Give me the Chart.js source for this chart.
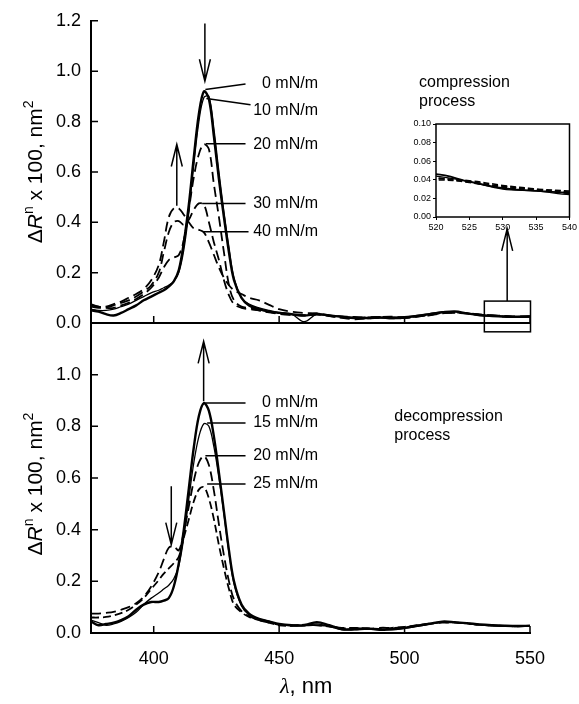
<!DOCTYPE html>
<html>
<head>
<meta charset="utf-8">
<script src="https://cdn.jsdelivr.net/npm/chart.js@4.4.0/dist/chart.umd.min.js"></script>
<style>
  body { margin: 0; background: #fff; }
  #wrap { position: relative; width: 579px; height: 704px; }
  canvas { position: absolute; }
</style>
</head>
<body>
<div id="wrap">
  <canvas id="bottomChart" width="579" height="704" style="left:0;top:0"></canvas>
  <canvas id="topChart" width="579" height="704" style="left:0;top:0"></canvas>
  <canvas id="insetChart" width="179" height="130" style="left:400px;top:110px"></canvas>
</div>
<script>
// wavelength grid, nm
const wavelength = [375, 378, 381, 384, 387, 390, 393, 396, 399, 402,
  404, 406, 408, 410, 412, 414, 416, 418, 420, 422, 424, 426, 428, 430, 432,
  435, 438, 442, 446, 450,
  455, 460, 465, 470, 475, 480, 485, 490, 495, 500, 505, 510, 515, 520, 525, 530, 535, 540, 545, 550];

// compression process
const comp0 = [0.05, 0.045, 0.035, 0.03, 0.04, 0.055, 0.07, 0.09, 0.105, 0.12,
  0.13, 0.145, 0.165, 0.21, 0.32, 0.47, 0.66, 0.83, 0.92, 0.89, 0.74, 0.57, 0.42, 0.28, 0.17,
  0.10, 0.07, 0.055, 0.045, 0.04,
  0.035, 0.03, 0.035, 0.03, 0.025, 0.02, 0.02, 0.022, 0.02, 0.022, 0.028, 0.035, 0.042, 0.046, 0.038, 0.031, 0.028, 0.026, 0.025, 0.026];
const comp10 = [0.055, 0.05, 0.05, 0.055, 0.065, 0.075, 0.09, 0.105, 0.12, 0.13,
  0.14, 0.15, 0.165, 0.20, 0.29, 0.44, 0.63, 0.80, 0.895, 0.90, 0.77, 0.60, 0.44, 0.30, 0.18,
  0.10, 0.075, 0.06, 0.05, 0.042,
  0.035, 0.005, 0.035, 0.03, 0.025, 0.022, 0.018, 0.02, 0.022, 0.025, 0.03, 0.037, 0.045, 0.044, 0.038, 0.030, 0.028, 0.024, 0.022, 0.024];
const comp20 = [0.07, 0.065, 0.06, 0.06, 0.07, 0.08, 0.095, 0.115, 0.14, 0.18,
  0.22, 0.25, 0.26, 0.27, 0.33, 0.45, 0.58, 0.67, 0.71, 0.69, 0.55, 0.42, 0.28, 0.15, 0.09,
  0.065, 0.06, 0.05, 0.042, 0.036,
  0.032, 0.03, 0.038, 0.028, 0.02, 0.015, 0.018, 0.02, 0.018, 0.02, 0.026, 0.033, 0.04, 0.042, 0.037, 0.032, 0.029, 0.027, 0.024, 0.025];
const comp30 = [0.065, 0.06, 0.062, 0.07, 0.08, 0.09, 0.105, 0.125, 0.15, 0.20,
  0.28, 0.36, 0.40, 0.405, 0.39, 0.41, 0.45, 0.475, 0.47, 0.40, 0.32, 0.25, 0.17, 0.11, 0.075,
  0.06, 0.055, 0.05, 0.044, 0.038,
  0.033, 0.03, 0.034, 0.027, 0.022, 0.02, 0.022, 0.024, 0.022, 0.02, 0.025, 0.032, 0.04, 0.040, 0.038, 0.033, 0.030, 0.028, 0.026, 0.027];
const comp40 = [0.075, 0.065, 0.065, 0.075, 0.085, 0.10, 0.115, 0.135, 0.17, 0.23,
  0.32, 0.42, 0.455, 0.455, 0.43, 0.40, 0.375, 0.37, 0.36, 0.32, 0.27, 0.22, 0.18, 0.15, 0.13,
  0.115, 0.10, 0.09, 0.072, 0.055,
  0.045, 0.04, 0.038, 0.03, 0.026, 0.024, 0.022, 0.024, 0.025, 0.022, 0.026, 0.03, 0.038, 0.041, 0.039, 0.034, 0.030, 0.025, 0.024, 0.025];

// decompression process
const decomp0 = [0.045, 0.03, 0.035, 0.04, 0.05, 0.065, 0.09, 0.11, 0.12, 0.12,
  0.125, 0.135, 0.18, 0.27, 0.40, 0.56, 0.72, 0.84, 0.89, 0.86, 0.76, 0.62, 0.47, 0.32, 0.20,
  0.11, 0.075, 0.055, 0.045, 0.035,
  0.03, 0.03, 0.042, 0.03, 0.015, 0.015, 0.018, 0.012, 0.015, 0.02, 0.028, 0.036, 0.044, 0.042, 0.038, 0.033, 0.03, 0.028, 0.027, 0.028];
const decomp15 = [0.05, 0.04, 0.03, 0.035, 0.045, 0.06, 0.08, 0.11, 0.135, 0.155,
  0.17, 0.185, 0.21, 0.26, 0.37, 0.52, 0.66, 0.76, 0.81, 0.80, 0.72, 0.60, 0.46, 0.31, 0.19,
  0.105, 0.07, 0.055, 0.045, 0.032,
  0.028, 0.028, 0.035, 0.025, 0.012, 0.012, 0.015, 0.015, 0.012, 0.018, 0.026, 0.034, 0.042, 0.040, 0.036, 0.031, 0.028, 0.026, 0.027, 0.027];
const decomp20 = [0.075, 0.075, 0.078, 0.082, 0.09, 0.10, 0.115, 0.14, 0.18, 0.235,
  0.285, 0.33, 0.335, 0.32, 0.39, 0.49, 0.59, 0.66, 0.685, 0.65, 0.55, 0.42, 0.30, 0.20, 0.13,
  0.085, 0.065, 0.05, 0.04, 0.032,
  0.03, 0.03, 0.03, 0.028, 0.02, 0.02, 0.015, 0.02, 0.02, 0.022, 0.028, 0.035, 0.04, 0.04, 0.037, 0.032, 0.03, 0.027, 0.026, 0.027];
const decomp25 = [0.06, 0.06, 0.062, 0.068, 0.077, 0.09, 0.11, 0.135, 0.17, 0.205,
  0.23, 0.25, 0.27, 0.295, 0.37, 0.44, 0.51, 0.555, 0.565, 0.52, 0.44, 0.34, 0.25, 0.17, 0.11,
  0.08, 0.062, 0.05, 0.04, 0.03,
  0.028, 0.032, 0.03, 0.025, 0.018, 0.02, 0.018, 0.016, 0.02, 0.024, 0.03, 0.036, 0.041, 0.041, 0.037, 0.032, 0.029, 0.027, 0.026, 0.027];

const compLabels = ['0 mN/m', '10 mN/m', '20 mN/m', '30 mN/m', '40 mN/m'];
const decompLabels = ['0 mN/m', '15 mN/m', '20 mN/m', '25 mN/m'];
const xTicks = [400, 450, 500, 550];
const yTicksTop = [0, 0.2, 0.4, 0.6, 0.8, 1.0, 1.2];
const yTicksBottom = [0, 0.2, 0.4, 0.6, 0.8, 1.0];
const insetXTicks = [520, 525, 530, 535, 540];
const insetYTicks = [0, 0.02, 0.04, 0.06, 0.08, 0.10];

const FONT = "'Liberation Sans', Arial, sans-serif";
Chart.defaults.font.family = FONT;
Chart.defaults.color = '#000';

const pts = ys => wavelength.map((x, i) => ({ x: x, y: ys[i] }));

const line = (label, ys, width, dash) => ({
  label: label,
  data: pts(ys),
  borderColor: '#000',
  borderWidth: width,
  borderDash: dash,
  pointRadius: 0,
  tension: 0.35,
  fill: false
});

// y title with italic R and superscripts, rotated
const drawYTitle = (ctx, cx, cy) => {
  const parts = [
    ['\u0394', '21px ' + FONT, 0],
    ['R', 'italic 21px ' + FONT, 0],
    ['n', '14px ' + FONT, -9],
    [' x 100, nm', '21px ' + FONT, 0],
    ['2', '14px ' + FONT, -9]
  ];
  ctx.save();
  ctx.translate(cx, cy);
  ctx.rotate(-Math.PI / 2);
  let w = 0;
  parts.forEach(p => { ctx.font = p[1]; w += ctx.measureText(p[0]).width; });
  let px = -w / 2;
  ctx.textAlign = 'left';
  ctx.textBaseline = 'alphabetic';
  parts.forEach(p => {
    ctx.font = p[1];
    ctx.fillText(p[0], px, p[2]);
    px += ctx.measureText(p[0]).width;
  });
  ctx.restore();
};

// annotations drawn through the chart's own scales
const makeMarks = cfg => ({
  id: 'marks',
  afterDraw(chart) {
    const { ctx, chartArea: a, scales: { x, y } } = chart;
    const X = v => x.getPixelForValue(v);
    const Y = v => y.getPixelForValue(v);
    ctx.save();
    ctx.strokeStyle = '#000';
    ctx.fillStyle = '#000';
    ctx.lineWidth = 1.5;
    ctx.setLineDash([]);

    // inward tick marks
    ctx.beginPath();
    x.ticks.forEach(t => { ctx.moveTo(X(t.value), a.bottom); ctx.lineTo(X(t.value), a.bottom - 7); });
    y.ticks.forEach(t => { ctx.moveTo(a.left, Y(t.value)); ctx.lineTo(a.left + 7, Y(t.value)); });
    ctx.stroke();

    // leader lines and pressure labels
    ctx.font = '16px ' + FONT;
    ctx.textAlign = 'right';
    ctx.textBaseline = 'middle';
    cfg.leaders.forEach(l => {
      ctx.beginPath();
      ctx.moveTo(X(l.a[0]), Y(l.a[1]));
      ctx.lineTo(X(l.b[0]), Y(l.b[1]));
      ctx.stroke();
      ctx.fillText(l.text, X(465.5), Y(l.ty));
    });

    // arrows
    cfg.arrows.forEach(ar => {
      const px = X(ar.x), y0 = Y(ar.from), y1 = Y(ar.to);
      const d = y1 > y0 ? 1 : -1;
      ctx.beginPath();
      ctx.moveTo(px, y0);
      ctx.lineTo(px, y1);
      ctx.moveTo(px - 5.5, y1 - d * 22);
      ctx.lineTo(px, y1);
      ctx.lineTo(px + 5.5, y1 - d * 22);
      ctx.stroke();
    });

    if (cfg.box) {
      const b = cfg.box;
      ctx.strokeRect(X(b.x0), Y(b.y1), X(b.x1) - X(b.x0), Y(b.y0) - Y(b.y1));
    }

    ctx.font = '16px ' + FONT;
    ctx.textAlign = 'left';
    ctx.textBaseline = 'alphabetic';
    cfg.notes.forEach(n => ctx.fillText(n.text, X(n.x), Y(n.y)));

    drawYTitle(ctx, 42, (a.top + a.bottom) / 2 + cfg.titleShift);

    if (cfg.xTitle) {
      ctx.textAlign = 'left';
      ctx.font = 'italic 22px "Liberation Serif", serif';
      ctx.fillText('\u03bb', 280, 693);
      const w = ctx.measureText('\u03bb').width;
      ctx.font = '22px ' + FONT;
      ctx.fillText(', nm', 280 + w, 693);
    }
    ctx.restore();
  }
});

const baseScales = (yTicks, showX, xHeight) => ({
  x: {
    type: 'linear',
    min: 375,
    max: 550,
    afterBuildTicks: s => { s.ticks = xTicks.map(v => ({ value: v })); },
    afterFit: s => { s.height = xHeight; },
    grid: { display: false, drawTicks: false },
    border: { display: true, width: 2, color: '#000' },
    ticks: { display: showX, padding: 15, font: { size: 18 }, color: '#000' }
  },
  y: {
    min: 0,
    max: 1.2,
    afterBuildTicks: s => { s.ticks = yTicks.map(v => ({ value: v })); },
    afterFit: s => { s.width = 91; },
    grid: { display: false, drawTicks: false },
    border: { display: true, width: 2, color: '#000' },
    ticks: { padding: 10, font: { size: 18 }, color: '#000', callback: v => Number(v).toFixed(1) }
  }
});

const common = {
  responsive: false,
  animation: false,
  plugins: { legend: { display: false }, tooltip: { enabled: false } }
};

new Chart(document.getElementById('topChart'), {
  type: 'line',
  data: {
    datasets: [
      line(compLabels[0], comp0, 2.4, []),
      line(compLabels[1], comp10, 1.3, []),
      line(compLabels[2], comp20, 1.8, [10, 5]),
      line(compLabels[3], comp30, 1.8, [10, 5]),
      line(compLabels[4], comp40, 1.8, [10, 5])
    ]
  },
  options: Object.assign({}, common, {
    layout: { padding: { left: 0, top: 19, right: 49, bottom: 381 } },
    scales: baseScales(yTicksTop, false, 0)
  }),
  plugins: [makeMarks({
    leaders: [
      { a: [420.6, 0.927], b: [436.6, 0.949], text: compLabels[0], ty: 0.949 },
      { a: [421, 0.891], b: [438.6, 0.867], text: compLabels[1], ty: 0.844 },
      { a: [420.8, 0.712], b: [436.6, 0.712], text: compLabels[2], ty: 0.709 },
      { a: [419.3, 0.475], b: [436.6, 0.475], text: compLabels[3], ty: 0.473 },
      { a: [419.8, 0.362], b: [437.8, 0.362], text: compLabels[4], ty: 0.364 }
    ],
    arrows: [
      { x: 420.4, from: 1.189, to: 0.96 },
      { x: 409.2, from: 0.466, to: 0.709 },
      { x: 540.9, from: 0.087, to: 0.374 }
    ],
    box: { x0: 531.8, x1: 550.2, y0: -0.035, y1: 0.087 },
    notes: [
      { text: 'compression', x: 505.8, y: 0.936 },
      { text: 'process', x: 505.8, y: 0.861 }
    ],
    titleShift: 0,
    xTitle: false
  })]
});

new Chart(document.getElementById('bottomChart'), {
  type: 'line',
  data: {
    datasets: [
      line(decompLabels[0], decomp0, 2.4, []),
      line(decompLabels[1], decomp15, 1.3, []),
      line(decompLabels[2], decomp20, 1.8, [10, 5]),
      line(decompLabels[3], decomp25, 1.8, [8, 4])
    ]
  },
  options: Object.assign({}, common, {
    layout: { padding: { left: 0, top: 323, right: 49, bottom: 0 } },
    scales: baseScales(yTicksBottom, true, 71)
  }),
  plugins: [makeMarks({
    leaders: [
      { a: [420.6, 0.890], b: [436.6, 0.890], text: decompLabels[0], ty: 0.890 },
      { a: [421.3, 0.813], b: [436.6, 0.813], text: decompLabels[1], ty: 0.813 },
      { a: [420.6, 0.686], b: [436.6, 0.686], text: decompLabels[2], ty: 0.686 },
      { a: [421.3, 0.577], b: [436.6, 0.577], text: decompLabels[3], ty: 0.577 }
    ],
    arrows: [
      { x: 419.9, from: 0.897, to: 1.129 },
      { x: 407, from: 0.568, to: 0.342 }
    ],
    box: null,
    notes: [
      { text: 'decompression', x: 495.9, y: 0.822 },
      { text: 'process', x: 495.9, y: 0.748 }
    ],
    titleShift: 6,
    xTitle: true
  })]
});

// inset: zoom on 520-540 nm of the compression spectra
const frame = {
  id: 'frame',
  afterDraw(chart) {
    const { ctx, chartArea: a } = chart;
    ctx.save();
    ctx.strokeStyle = '#000';
    ctx.lineWidth = 1.5;
    ctx.strokeRect(a.left, a.top, a.right - a.left, a.bottom - a.top);
    ctx.restore();
  }
};

new Chart(document.getElementById('insetChart'), {
  type: 'line',
  data: {
    datasets: [
      line(compLabels[0], comp0, 1.8, []),
      line(compLabels[1], comp10, 1.2, []),
      line(compLabels[2], comp20, 1.5, [6, 3]),
      line(compLabels[3], comp30, 1.5, [6, 3]),
      line(compLabels[4], comp40, 1.5, [6, 3])
    ]
  },
  options: Object.assign({}, common, {
    layout: { padding: { left: 0, top: 14, right: 8, bottom: 0 } },
    scales: {
      x: {
        type: 'linear',
        min: 520,
        max: 540,
        afterBuildTicks: s => { s.ticks = insetXTicks.map(v => ({ value: v })); },
        afterFit: s => { s.height = 23; },
        grid: { display: true, drawOnChartArea: false, drawTicks: true, tickLength: 3, color: '#000' },
        border: { display: false },
        ticks: { padding: 2, font: { size: 9 }, color: '#000', maxRotation: 0 }
      },
      y: {
        min: 0,
        max: 0.1,
        afterBuildTicks: s => { s.ticks = insetYTicks.map(v => ({ value: v })); },
        afterFit: s => { s.width = 36; },
        grid: { display: true, drawOnChartArea: false, drawTicks: true, tickLength: 3, color: '#000' },
        border: { display: false },
        ticks: { padding: 2, font: { size: 9 }, color: '#000', callback: v => Number(v).toFixed(2) }
      }
    }
  }),
  plugins: [frame]
});
</script>
</body>
</html>
